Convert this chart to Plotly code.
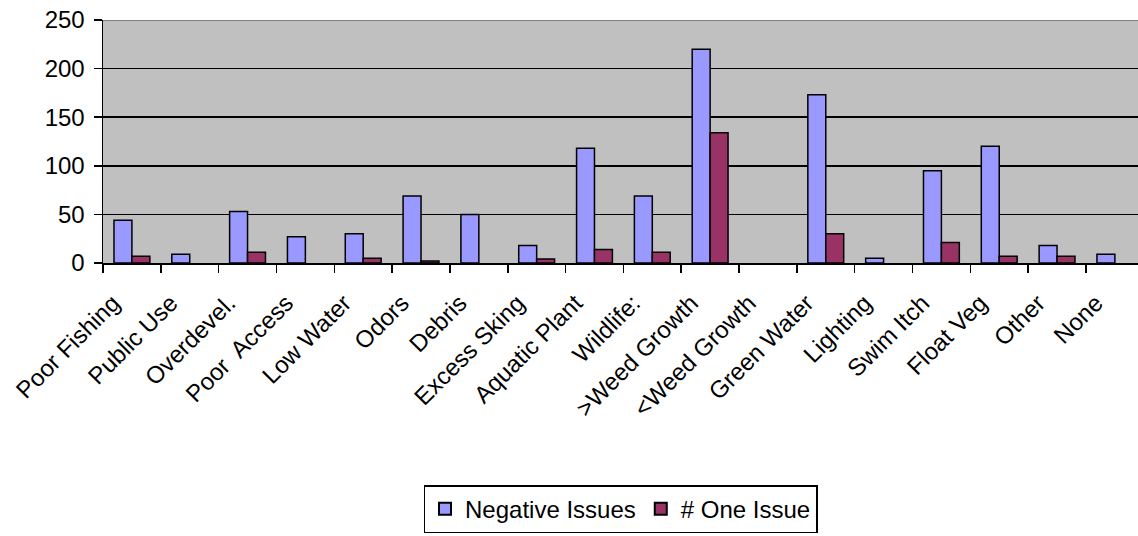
import plotly.graph_objects as go

categories = ["Poor Fishing", "Public Use", "Overdevel.", "Poor  Access", "Low Water",
              "Odors", "Debris", "Excess Sking", "Aquatic Plant", "Wildlife:",
              ">Weed Growth", "<Weed Growth", "Green Water", "Lighting", "Swim Itch",
              "Float Veg", "Other", "None"]
negative_issues = [44, 9, 53, 27, 30, 69, 50, 18, 118, 69, 220, 0, 173, 5, 95, 120, 18, 9]
one_issue = [7, 0, 11, 0, 5, 2, 0, 4, 14, 11, 134, 0, 30, 0, 21, 7, 7, 0]
y_ticks = [0, 50, 100, 150, 200, 250]

FONT = "Liberation Sans, Arial, sans-serif"


def nonzero(values):
    # zero-height bars are not drawn in the reference (no outline at the baseline)
    return [v if v else None for v in values]


fig = go.Figure()
fig.add_trace(go.Bar(x=categories, y=nonzero(negative_issues), name="Negative Issues",
                     marker=dict(color="#9999FF", line=dict(color="black", width=1.5))))
fig.add_trace(go.Bar(x=categories, y=nonzero(one_issue), name="# One Issue",
                     marker=dict(color="#993366", line=dict(color="black", width=1.5))))

fig.update_layout(
    width=1138, height=536,
    margin=dict(l=103, r=0, t=20, b=273),
    paper_bgcolor="white", plot_bgcolor="#C0C0C0",
    font=dict(family=FONT, size=24, color="black"),
    barmode="group", bargap=0.38, bargroupgap=0,
    hovermode=False,
    showlegend=True,
    legend=dict(orientation="h", x=0.5, xanchor="center", y=-0.914, yanchor="top",
                bordercolor="black", borderwidth=1.5, bgcolor="white",
                font=dict(family=FONT, size=24), itemsizing="constant",
                traceorder="normal", itemwidth=30),
    xaxis=dict(type="category", range=[-0.5, 17.4], tickangle=-45,
               ticks="outside", tickson="boundaries", ticklen=8, tickwidth=1.5,
               tickcolor="black", showline=True, linecolor="black", linewidth=1.5,
               showgrid=False, automargin=False, ticklabelstandoff=15,
               ticklabelshift=-19, ticklabeloverflow="allow",
               tickfont=dict(family=FONT, size=24)),
    yaxis=dict(range=[0, 250], tickvals=y_ticks, ticks="outside", ticklen=8,
               tickwidth=1.5, tickcolor="black", showline=True, linecolor="black",
               linewidth=1.5, showgrid=True, gridcolor="black", gridwidth=1.5,
               zeroline=False, automargin=False, ticklabelstandoff=4,
               ticklabeloverflow="allow", tickfont=dict(family=FONT, size=24)),
    shapes=[dict(type="line", xref="paper", yref="y", x0=0, x1=1, y0=250, y1=250,
                 line=dict(color="#808080", width=2), layer="above")],
)

# remove the browser's default 8px body margin so the figure fills the window
fig.write_html("out.html",
               config={"displayModeBar": False, "staticPlot": True},
               post_script="document.body.style.margin='0';document.body.style.overflow='hidden';")
